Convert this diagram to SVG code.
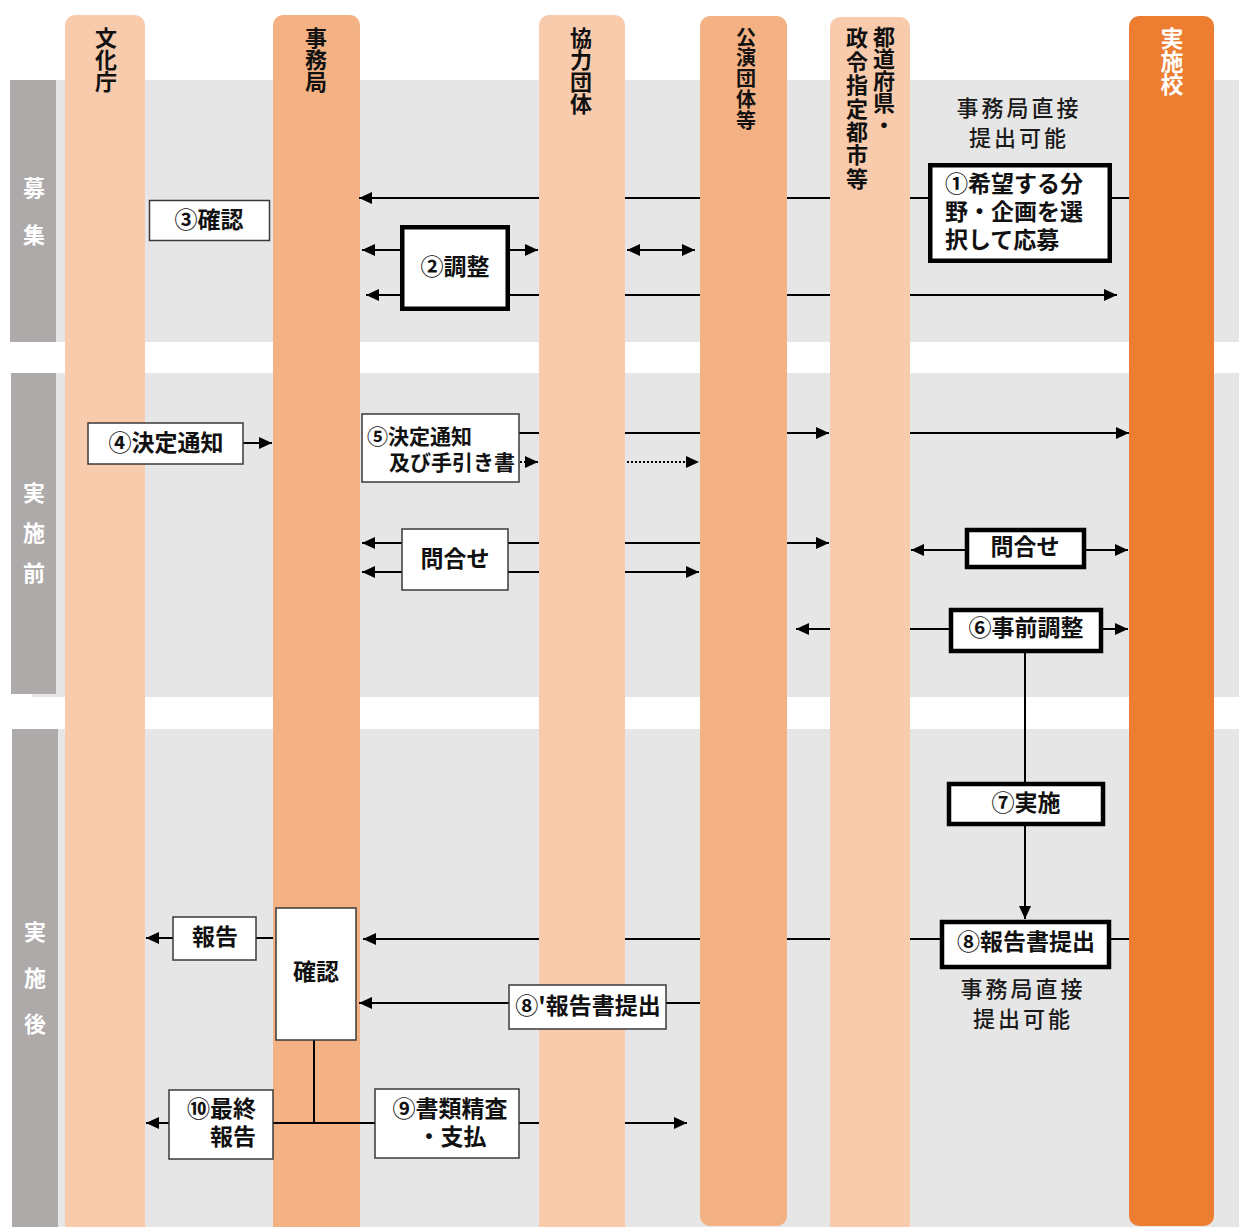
<svg xmlns="http://www.w3.org/2000/svg" width="1239" height="1227" viewBox="0 0 1239 1227">
<defs>
<marker id="ah" viewBox="0 0 13 12" refX="13" refY="6" markerWidth="13" markerHeight="12" markerUnits="userSpaceOnUse" orient="auto-start-reverse">
<path d="M0,0 L13,6 L0,12 z" fill="#000"/>
</marker>
<style>
text{font-family:"Noto Sans CJK JP","Noto Sans",sans-serif;fill:#111;}
.vt{writing-mode:vertical-rl;text-anchor:start;}
.hd{font-size:22px;font-weight:700;}
.band{font-size:22px;font-weight:700;fill:#fff;}
.lbl{font-size:23px;font-weight:700;text-anchor:middle;}
.note{font-size:22px;font-weight:500;text-anchor:middle;letter-spacing:3px;fill:#1a1a1a;}
.thin{fill:#fff;stroke:#3a3a3a;stroke-width:1.5;}
.thick{fill:#fff;stroke:#000;stroke-width:4.5;}
.c1{fill:#F8CBAD;}
.c2{fill:#F4B183;}
.c3{fill:#ED7D31;}
.ln{stroke:#000;stroke-width:2;fill:none;}
.ar{stroke:#000;stroke-width:2;fill:none;marker-end:url(#ah);}
.dar{stroke:#000;stroke-width:2;fill:none;marker-start:url(#ah);marker-end:url(#ah);}
.dot{stroke:#000;stroke-width:2;fill:none;stroke-dasharray:2 2;marker-end:url(#ah);}
</style>
</defs>
<rect width="1239" height="1227" fill="#fff"/>
<g id="bands">
<rect x="56" y="80" width="1183" height="262" fill="#E7E6E6"/>
<rect x="10" y="80" width="46" height="262" fill="#AEAAAA"/>
<rect x="32" y="373" width="1207" height="324" fill="#E7E6E6"/>
<rect x="11" y="373" width="45" height="321" fill="#AEAAAA"/>
<rect x="58" y="729" width="1181" height="498" fill="#E7E6E6"/>
<rect x="12" y="729" width="46" height="498" fill="#AEAAAA"/>
<text class="vt band" x="34" y="177" style="letter-spacing:25px">募集</text>
<text class="vt band" x="34" y="482" style="letter-spacing:18px">実施前</text>
<text class="vt band" x="35" y="921" style="letter-spacing:24px">実施後</text>
</g>
<g id="col-bunka">
<rect class="c1" x="65" y="15" width="80" height="1225" rx="10"/>
<text class="vt hd" x="106" y="27">文化庁</text>
</g>
<g id="col-jimukyoku">
<rect class="c2" x="273" y="15" width="87" height="1225" rx="10"/>
<text class="vt hd" x="316" y="27">事務局</text>
</g>
<g id="col-kyoryoku">
<rect class="c1" x="539" y="15" width="86" height="1225" rx="10"/>
<text class="vt hd" x="581" y="27">協力団体</text>
</g>
<g id="col-koen">
<rect class="c2" x="700" y="16" width="87" height="1210" rx="10"/>
<text class="vt hd" x="746" y="27" style="font-size:20px;letter-spacing:0.8px">公演団体等</text>
</g>
<g id="col-todofuken">
<rect class="c1" x="830" y="17" width="80" height="1225" rx="10"/>
<text class="vt hd" x="884" y="26">都道府県・</text>
<text class="vt hd" x="857" y="27" style="letter-spacing:1.4px">政令指定都市等</text>
</g>
<g id="col-jisshiko">
<rect class="c3" x="1129" y="16" width="85" height="1210" rx="10"/>
<text class="vt hd" x="1172" y="27" style="font-size:23px;fill:#fff">実施校</text>
</g>
<g id="connectors">
<path class="ln" d="M1112,198 H1129 M910,198 H928 M787,198 H830 M625,198 H700"/>
<path class="ar" d="M539,198 H359"/>
<path class="ar" d="M400,250 H362"/>
<path class="ar" d="M510,250 H538"/>
<path class="dar" d="M627,250 H695"/>
<path class="ar" d="M400,295 H366"/>
<path class="ln" d="M510,295 H539 M625,295 H700 M787,295 H830"/>
<path class="ar" d="M910,295 H1117"/>
<path class="ar" d="M243,443 H272"/>
<path class="ln" d="M519,433 H539 M625,433 H700"/>
<path class="ar" d="M787,433 H829"/>
<path class="ar" d="M910,433 H1129"/>
<path class="dot" d="M520,462 H538"/>
<path class="dot" d="M627,462 H699"/>
<path class="ar" d="M402,543 H362"/>
<path class="ln" d="M508,543 H539 M625,543 H700"/>
<path class="ar" d="M787,543 H829"/>
<path class="ar" d="M402,572 H362"/>
<path class="ln" d="M508,572 H539"/>
<path class="ar" d="M625,572 H699"/>
<path class="ar" d="M965,550 H911"/>
<path class="ar" d="M1086,550 H1128"/>
<path class="ln" d="M949,629 H910"/>
<path class="ar" d="M830,629 H796"/>
<path class="ar" d="M1103,629 H1128"/>
<path class="ln" d="M1025,653 V782"/>
<path class="ar" d="M1025,826 V919"/>
<path class="ln" d="M940,939 H910 M830,939 H787 M700,939 H625 M1111,939 H1129"/>
<path class="ar" d="M539,939 H363"/>
<path class="ar" d="M173,938 H146"/>
<path class="ln" d="M256,938 H273"/>
<path class="ar" d="M509,1003 H359"/>
<path class="ln" d="M666,1003 H700"/>
<path class="ln" d="M314,1040 V1123 M273,1123 H375 M519,1123 H539"/>
<path class="ar" d="M169,1123 H146"/>
<path class="ar" d="M625,1123 H687"/>
</g>
<g id="note-top">
<text class="note"><tspan x="1019" y="116">事務局直接</tspan><tspan x="1019" y="146">提出可能</tspan></text>
</g>
<g id="n1">
<rect class="thick" x="930.25" y="165.25" width="179.5" height="95.5"/>
<text class="lbl" style="text-anchor:start"><tspan x="945" y="192">①希望する分</tspan><tspan x="945" y="220">野・企画を選</tspan><tspan x="945" y="248">択して応募</tspan></text>
</g>
<g id="n2">
<rect class="thick" x="402.25" y="227.25" width="105.5" height="81.5"/>
<text class="lbl" x="455" y="275">②調整</text>
</g>
<g id="n3">
<rect class="thin" x="149.5" y="200.5" width="120" height="40"/>
<text class="lbl" x="209" y="228">③確認</text>
</g>
<g id="n4">
<rect class="thin" x="88" y="423" width="155" height="41"/>
<text class="lbl" x="166" y="451">④決定通知</text>
</g>
<g id="n5">
<rect class="thin" x="362" y="414" width="157" height="68"/>
<text class="lbl" style="font-size:21px;text-anchor:start"><tspan x="367" y="444">⑤決定通知</tspan><tspan x="389" y="470">及び手引き書</tspan></text>
</g>
<g id="n-toiawase1">
<rect class="thin" x="402" y="529" width="106" height="61"/>
<text class="lbl" x="455" y="567">問合せ</text>
</g>
<g id="n-toiawase2">
<rect class="thick" x="967" y="530" width="117" height="37"/>
<text class="lbl" x="1025" y="555">問合せ</text>
</g>
<g id="n6">
<rect class="thick" x="951" y="610" width="150" height="41"/>
<text class="lbl" x="1026" y="636">⑥事前調整</text>
</g>
<g id="n7">
<rect class="thick" x="949" y="784" width="154" height="40"/>
<text class="lbl" x="1026" y="811">⑦実施</text>
</g>
<g id="n8">
<rect class="thick" x="942" y="922" width="167" height="45"/>
<text class="lbl" x="1026" y="950">⑧報告書提出</text>
</g>
<g id="note-bottom">
<text class="note"><tspan x="1023" y="997">事務局直接</tspan><tspan x="1023" y="1027">提出可能</tspan></text>
</g>
<g id="n-hokoku">
<rect class="thin" x="173" y="917" width="83" height="43"/>
<text class="lbl" x="215" y="945">報告</text>
</g>
<g id="n-kakunin">
<rect class="thin" x="276" y="908" width="80" height="132"/>
<text class="lbl" x="316" y="980">確認</text>
</g>
<g id="n8b">
<rect class="thin" x="509" y="985" width="157" height="44"/>
<text class="lbl" x="588" y="1014">⑧'報告書提出</text>
</g>
<g id="n10">
<rect class="thin" x="169" y="1090" width="104" height="69"/>
<text class="lbl" style="text-anchor:end"><tspan x="256" y="1117">⑩最終</tspan><tspan x="256" y="1145">報告</tspan></text>
</g>
<g id="n9">
<rect class="thin" x="375" y="1089" width="144" height="69"/>
<text class="lbl"><tspan x="450" y="1117">⑨書類精査</tspan><tspan x="452" y="1145">・支払</tspan></text>
</g>
</svg>
